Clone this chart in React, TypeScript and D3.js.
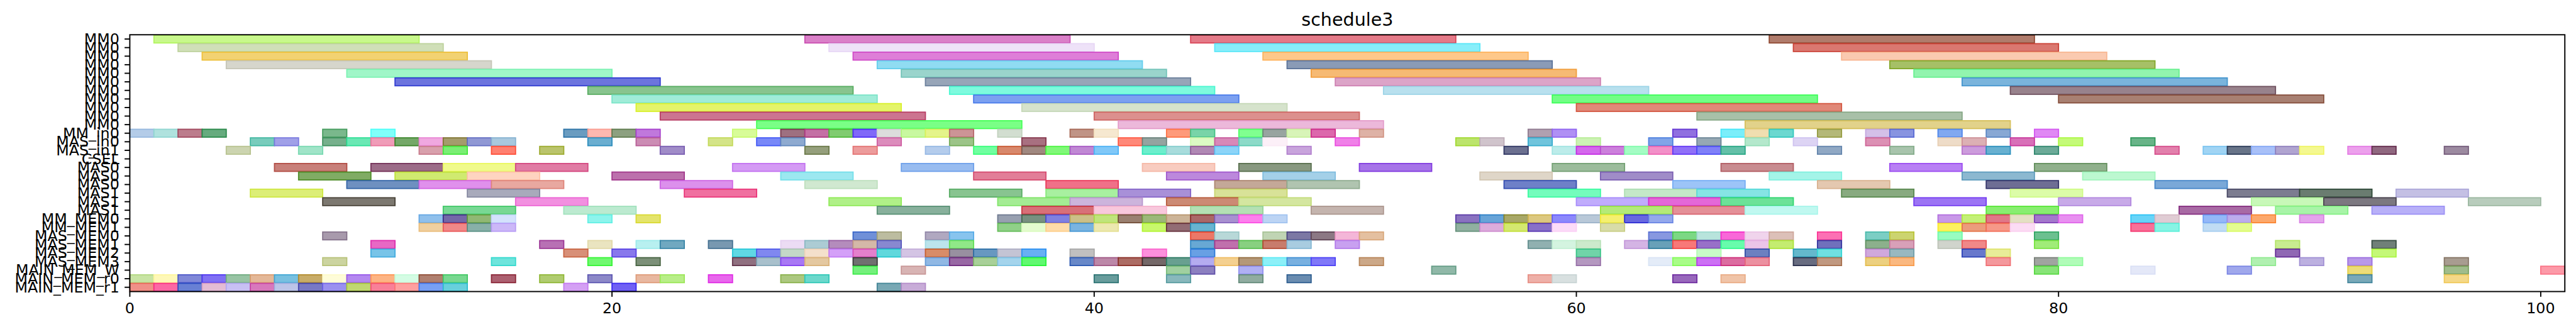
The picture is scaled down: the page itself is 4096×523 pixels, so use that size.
import React from 'react';
import * as d3 from 'd3';

type Task = [number, number, string];

const chartTitle = 'schedule3';

const rowLabels = [
  'MM0', 'MM0', 'MM0', 'MM0', 'MM0', 'MM0', 'MM0', 'MM0', 'MM0', 'MM0', 'MM0',
  'MM_in0', 'MAS_in0', 'MAS_in1', 'CSEL',
  'MAS0', 'MAS0', 'MAS0', 'MAS1', 'MAS1', 'MAS1',
  'MM_MEM0', 'MM_MEM1', 'MAS_MEM0', 'MAS_MEM1', 'MAS_MEM2', 'MAS_MEM3',
  'MAIN_MEM_W', 'MAIN_MEM_r0', 'MAIN_MEM_r1',
];

const xTicks = [0, 20, 40, 60, 80, 100];

// [start, end, colour] per row, top to bottom
const mm0Tasks: Task[][] = [
  [[1, 12, 'c8f88c'], [28, 39, 'da80c8'], [44, 55, 'e47a88'], [68, 79, 'b07c6c']],
  [[2, 13, 'd0dfb8'], [29, 40, 'eee2f8'], [45, 56, '88eefa'], [69, 80, 'da7870']],
  [[3, 14, 'f2d272'], [30, 41, 'de7ed8'], [47, 58, 'fec88a'], [71, 82, 'facab0']],
  [[4, 15, 'd6d6cc'], [31, 42, '90dcf2'], [48, 59, '8a9bb6'], [73, 84, 'a6c066']],
  [[9, 20, 'a0f6c8'], [32, 43, '9ad4cc'], [49, 60, 'f6ba74'], [74, 85, '92f4ae']],
  [[11, 22, '6c74de'], [33, 44, '97a5b8'], [50, 61, 'dca4c8'], [76, 87, '7ab4dc']],
  [[19, 30, '88c48e'], [34, 45, '7efade'], [52, 63, 'b8e0ee'], [78, 89, '98828c']],
  [[20, 31, 'a0ecd8'], [35, 46, '7ca0f0'], [59, 70, '72fe86'], [80, 91, 'a88072']],
  [[21, 32, 'e4f46a'], [37, 48, 'd6e3cc'], [60, 71, 'e08878']],
  [[22, 33, 'cc7490'], [40, 51, 'dc908e'], [65, 76, 'a8c0a8']],
  [[26, 37, '7aff86'], [41, 52, 'ecb8da'], [67, 78, 'e2d28a']],
];

const inputTasks: Task[][] = [
  [[0, 1, 'b4cce8'], [1, 2, 'b0e2de'], [2, 3, 'bc7c8c'], [3, 4, '66ab7e'], [8, 9, '7ab88c'], [10, 11, '80fffa'],
   [18, 19, '6a9cc0'], [19, 20, 'fcb8b0'], [20, 21, '8ca080'], [21, 22, 'c078dc'], [25, 26, 'd8fc98'],
   [27, 28, '9e7080'], [28, 29, 'c470a4'], [29, 30, '80cc70'], [30, 31, '8068f8'], [31, 32, 'dcdcdc'],
   [32, 33, 'c8f8a0'], [33, 34, 'e4f48a'], [34, 35, 'cc9496'], [36, 37, 'd2ded0'], [39, 40, 'c09486'],
   [40, 41, 'f6e8d0'], [43, 44, 'fe9a7a'], [44, 45, '78d4a8'], [46, 47, '80ff90'], [47, 48, '98a4a0'],
   [48, 49, 'd8f4b8'], [49, 50, 'dc68ac'], [51, 52, 'deb2a6'], [58, 59, 'b0a0b0'], [59, 60, 'b090f4'],
   [64, 65, '9070e0'], [66, 67, '7aeefa'], [67, 68, 'f0deb0'], [68, 69, '6cd8d0'], [70, 71, 'b4b878'],
   [72, 73, 'd4c0e8'], [73, 74, '8894e0'], [75, 76, '80a8f0'], [77, 78, '88a8d4'], [79, 80, 'e088f4']],
  [[5, 6, '78ccbc'], [6, 7, 'a0a0e8'], [8, 9, '76b08c'], [9, 10, '6ae8b4'], [10, 11, 'f09cb8'], [11, 12, '74a868'],
   [12, 13, 'f0a8e0'], [13, 14, 'a49c6c'], [14, 15, '9098d4'], [15, 16, 'a8c8de'], [19, 20, '6aaed0'],
   [21, 22, 'cc8cb4'], [24, 25, 'd4e488'], [26, 27, '7888f8'], [27, 28, '8eaad0'], [31, 32, 'dc8cbc'],
   [34, 35, '9cc488'], [37, 38, 'a87080'], [41, 42, 'ff8878'], [42, 43, '94a4a0'], [44, 45, 'dcfac4'],
   [45, 46, 'd888b8'], [46, 47, '8cdac8'], [47, 48, 'fcf0f8'], [50, 51, 'f080e8'], [55, 56, 'bce46c'],
   [56, 57, 'd0c4cc'], [58, 59, '70c4dc'], [60, 61, 'ccf2b4'], [63, 64, '80a4e8'], [65, 66, '96a8b4'],
   [67, 68, 'b4e8cc'], [69, 70, 'ddd4f4'], [72, 73, 'dc90b4'], [75, 76, 'eedcc8'], [76, 77, 'dcb0b4'],
   [78, 79, 'd870b8'], [80, 81, 'c4fa78'], [83, 84, '68b488']],
  [[4, 5, 'ccd4b0'], [7, 8, 'a0e4c8'], [12, 13, 'd8a0ac'], [13, 14, '7aee74'], [15, 16, 'ff8070'],
   [17, 18, 'bac46c'], [22, 23, 'a08cc8'], [28, 29, '959f7c'], [30, 31, 'ec9c9c'], [33, 34, 'b4ccec'],
   [35, 36, '70ffa0'], [36, 37, 'd8886c'], [37, 38, 'a08880'], [38, 39, '80f878'], [39, 40, 'c088d4'],
   [40, 41, '80c8f8'], [42, 43, '6ceecc'], [43, 44, 'a8dcdc'], [44, 45, 'b088b4'], [45, 46, '8cd4f8'],
   [48, 49, 'c8a4dc'], [57, 58, '6c7090'], [59, 60, 'bcecea'], [60, 61, 'd468ec'], [61, 62, 'cc80dc'],
   [62, 63, 'a4fcc4'], [63, 64, 'f290c8'], [64, 65, '9070f8'], [65, 66, '8080f8'], [66, 67, '64c0a8'],
   [70, 71, '90a8c4'], [73, 74, 'a8c4ac'], [76, 77, 'cc9cdc'], [77, 78, '68b0d0'], [79, 80, '6caa98'],
   [84, 85, 'e280ac'], [86, 87, 'a0d4f4'], [87, 88, '687488'], [88, 89, 'a8c0f8'], [89, 90, 'b0a4d0'],
   [90, 91, 'f4f890'], [92, 93, 'eca0ec'], [93, 94, '906880'], [96, 97, '9c8aa0']],
  [],
];

const masTasks: Task[][] = [
  [[6, 9, 'c8807a'], [10, 13, '9c6c88'], [13, 16, 'f0fa8c'], [16, 19, 'e07ca4'], [25, 28, 'd49af4'],
   [32, 35, '98bcf0'], [42, 45, 'f8ccc0'], [46, 49, '889880'], [51, 54, 'a674e8'], [59, 62, '9cbc9c'],
   [66, 69, 'c88c90'], [73, 76, 'b880f4'], [79, 82, '90b08c']],
  [[7, 10, '80ac64'], [11, 14, 'd0ea70'], [14, 17, 'fed4c0'], [20, 23, 'bc70ac'], [27, 30, '9ce8f0'],
   [35, 38, 'e27e98'], [43, 46, 'bc88dc'], [47, 50, 'a4d0e8'], [56, 59, 'dfd6c8'], [61, 64, 'a08cc8'],
   [68, 71, 'a4f4e8'], [76, 79, '8cb8d0'], [81, 84, 'bcf8d0']],
  [[9, 12, '6e90c0'], [12, 15, 'e090ec'], [15, 18, 'e8a8a0'], [22, 25, 'dc90ec'], [28, 31, 'd0e8d0'],
   [38, 41, 'f07088'], [45, 48, 'c4a898'], [48, 51, 'b0c4b0'], [57, 60, '6e80c8'], [64, 67, '9cc4f8'],
   [70, 73, 'e4c8b0'], [77, 80, '6e6e94'], [84, 87, '7aa8d8']],
  [[5, 8, 'dcee78'], [14, 17, 'a8aabb'], [23, 26, 'f070a0'], [34, 37, '88c490'], [38, 41, 'a8f0a0'],
   [41, 44, 'a890d8'], [45, 48, 'd8e298'], [58, 61, '74fcbc'], [62, 65, 'c4e8c8'], [65, 68, '86e4e4'],
   [71, 74, '88aa80'], [78, 81, 'dcfca8'], [87, 90, '7c7c90'], [90, 93, '6a7c70'], [94, 97, 'c4c0e4']],
  [[8, 11, '7c7870'], [16, 19, 'f290e0'], [29, 32, 'b0f088'], [36, 39, 'a4ec94'], [39, 42, 'ccb4dc'],
   [43, 46, 'cc8a74'], [46, 49, 'd4e6a0'], [60, 63, 'c0acfc'], [63, 66, 'e468d8'], [66, 69, '6ce298'],
   [74, 77, '9c74f4'], [80, 83, 'c8aae8'], [88, 91, 'c8f8b8'], [91, 94, '7c7880'], [97, 100, 'b8ccbc']],
  [[13, 16, '78d894'], [18, 21, 'bcead0'], [31, 34, '88b09c'], [37, 40, 'd87078'], [40, 43, 'f8c8dc'],
   [44, 47, 'b4e0b4'], [49, 52, 'c4b4ae'], [61, 64, 'b4ea78'], [64, 67, 'e49098'], [67, 70, 'c0f8f0'],
   [77, 80, '88ee70'], [85, 88, 'a86aa4'], [89, 92, 'a8f4a8'], [93, 96, 'b8b0f8']],
];

const memTasks: Task[][] = [
  [[12, 13, '90c0ec'], [13, 14, '7468a8'], [14, 15, '90b874'], [15, 16, 'd4e2fc'], [19, 20, '8ef4ec'],
   [21, 22, 'e4e46c'], [36, 37, '98a0b0'], [37, 38, '789080'], [38, 39, '8080e0'], [39, 40, 'ccc088'],
   [40, 41, 'c0e47c'], [41, 42, '9a8070'], [42, 43, '9cb878'], [43, 44, 'ccb498'], [44, 45, 'aa6868'],
   [45, 46, 'a890d0'], [46, 47, 'fc80ec'], [47, 48, 'bcd4f4'], [55, 56, '8a72c0'], [56, 57, '68a4d8'],
   [57, 58, 'a8a868'], [58, 59, 'dcc880'], [59, 60, '8c88fc'], [60, 61, 'b8c8d8'], [61, 62, 'f4f070'],
   [62, 63, '6868e0'], [63, 64, '94a8ec'], [75, 76, 'c898e8'], [76, 77, 'c4f078'], [77, 78, 'e07888'],
   [78, 79, 'e4e0c4'], [79, 80, 'a478cc'], [80, 81, 'e890f0'], [83, 84, '68d4f8'], [84, 85, 'e0ccd4'],
   [86, 87, '94b8f8'], [87, 88, 'bcacec'], [88, 89, 'fca86c'], [90, 91, 'e4a4ec']],
  [[12, 13, 'f0d0a0'], [13, 14, 'f08888'], [14, 15, '88b0a8'], [15, 16, 'ccb8f8'], [36, 37, '90d088'],
   [37, 38, 'e4fcd0'], [38, 39, 'fedcaa'], [39, 40, '7ab4e0'], [40, 41, 'ece8b0'], [42, 43, 'c8f86c'],
   [43, 44, '926c74'], [44, 45, '68b4d0'], [55, 56, '90b0a0'], [56, 57, 'dcacdc'], [57, 58, 'd4e870'],
   [58, 59, '8870c8'], [59, 60, 'fcdcf8'], [61, 62, 'd8dca8'], [75, 76, 'fcf060'], [76, 77, 'ec9c7c'],
   [77, 78, 'f69888'], [78, 79, 'fcdcf4'], [83, 84, 'f87098'], [84, 85, '88f4e4'], [86, 87, 'c0dcf4'],
   [87, 88, 'e4fc90']],
  [[8, 9, 'a89aac'], [30, 31, '7090d8'], [31, 32, 'bcbca0'], [33, 34, 'b0a8c0'], [34, 35, '88c4ee'],
   [44, 45, 'ec7868'], [45, 46, 'b8d8d8'], [47, 48, 'c0d4b4'], [48, 49, '7c78a4'], [49, 50, '8c7884'],
   [50, 51, 'f4b6d8'], [51, 52, 'e4c0a0'], [63, 64, '8898e0'], [64, 65, '7cd884'], [65, 66, 'b8e4dc'],
   [66, 67, 'f868d8'], [67, 68, 'f0d4ec'], [68, 69, 'dcc0b8'], [70, 71, 'fc70b4'], [72, 73, '7ccec4'],
   [73, 74, 'ccd470'], [75, 76, '98fcc0'], [79, 80, '6cc090']],
  [[10, 11, 'e868c4'], [17, 18, 'b870b4'], [19, 20, 'eae4c0'], [21, 22, 'b8f0f0'], [22, 23, '70a8c0'],
   [24, 25, '7898b0'], [27, 28, 'ecdcf4'], [28, 29, 'acccd4'], [29, 30, 'b48cbc'], [30, 31, 'd4b8a8'],
   [31, 32, '8888d0'], [33, 34, 'bce4ec'], [34, 35, '90e888'], [44, 45, '68a8d4'], [45, 46, 'c070ac'],
   [46, 47, '88d080'], [47, 48, 'c87c6c'], [48, 49, 'a8cce0'], [50, 51, 'c8a0f0'], [58, 59, '90b0b0'],
   [59, 60, 'd4f4e0'], [60, 61, 'cceacc'], [62, 63, 'd4b4e4'], [63, 64, '68a0b8'], [64, 65, 'f87878'],
   [65, 66, '9870c8'], [66, 67, '68fcac'], [67, 68, 'ecc4e8'], [68, 69, 'c4ec70'], [70, 71, '7070bc'],
   [72, 73, '8cb08c'], [73, 74, 'd8a0b8'], [75, 76, 'd0d4cc'], [76, 77, 'f08888'], [79, 80, 'a0ec78'],
   [89, 90, 'c8ec90'], [93, 94, '708078']],
  [[10, 11, '78c4e8'], [18, 19, 'd89078'], [20, 21, '8878ec'], [25, 26, '60d8e4'], [26, 27, '8088f0'],
   [27, 28, 'c4d8c8'], [28, 29, 'f4e0cc'], [29, 30, 'd4a0f8'], [30, 31, 'e480cc'], [31, 32, '60d8dc'],
   [32, 33, 'd4c4e4'], [33, 34, 'd88c68'], [34, 35, '9890a0'], [35, 36, '6898c0'], [36, 37, 'c4c4d4'],
   [37, 38, '68b0f4'], [39, 40, 'c0c0c0'], [42, 43, 'fc90dc'], [44, 45, '68a0e4'], [60, 61, '70d4a8'],
   [65, 66, 'c8fcc8'], [67, 68, '6c80c0'], [69, 70, '64b8cc'], [70, 71, '70e0e0'], [72, 73, 'd0a8dc'],
   [73, 74, '98b8c0'], [76, 77, '6878cc'], [77, 78, 'e8ec98'], [89, 90, '9068b4'], [93, 94, 'c4f878']],
  [[8, 9, 'ccd4a0'], [15, 16, '6ee4dc'], [19, 20, '70f870'], [21, 22, '7c9078'], [25, 26, '907080'],
   [26, 27, 'a8c0cc'], [27, 28, 'a878f4'], [28, 29, 'e4c8a0'], [30, 31, '707070'], [33, 34, '90b8e4'],
   [34, 35, '9868a4'], [35, 36, 'a8d098'], [36, 37, 'a4d4ec'], [37, 38, '60f870'], [39, 40, '6888c8'],
   [40, 41, 'bc88a8'], [41, 42, 'ac6c64'], [42, 43, '746868'], [43, 44, '68a090'], [44, 45, 'b4acf0'],
   [45, 46, 'f4d090'], [46, 47, 'b49878'], [47, 48, '8cf0f8'], [48, 49, '78b0e0'], [49, 50, '8078f8'],
   [51, 52, 'cca888'], [60, 61, 'b498c0'], [63, 64, 'e4ecf8'], [64, 65, 'a8fc88'], [65, 66, 'cc70f4'],
   [66, 67, 'dc6ca0'], [67, 68, 'ec90a0'], [69, 70, '686c80'], [70, 71, 'c09880'], [72, 73, 'ecd080'],
   [73, 74, 'fab880'], [77, 78, 'f4989c'], [79, 80, 'a0a4a0'], [80, 81, 'b0fcb8'], [88, 89, 'b0f0b0'],
   [90, 91, 'bcb0e0'], [92, 93, 'b898e8'], [96, 97, 'a89c90']],
];

const mainMemTasks: Task[][] = [
  [[30, 31, '74f07c'], [32, 33, 'd8b4b4'], [43, 44, 'a0d0a0'], [44, 45, '8c80c0'], [46, 47, 'b0b0f4'],
   [54, 55, '90b8a8'], [79, 80, '88e478'], [83, 84, 'e4e8f8'], [87, 88, 'a0a8ec'], [92, 93, 'ecdc78'],
   [96, 97, 'a0bc8c'], [100, 101, 'fc9aa8']],
  [[0, 1, 'c8e4a4'], [1, 2, 'fef8b8'], [2, 3, '8088d8'], [3, 4, '8070f4'], [4, 5, '98c4a4'], [5, 6, 'e4b898'],
   [6, 7, '78c0e0'], [7, 8, 'c8ac68'], [8, 9, 'fefcd8'], [9, 10, 'b488f0'], [10, 11, 'fdb484'],
   [11, 12, 'd4fce4'], [12, 13, 'b08070'], [13, 14, '78d890'], [15, 16, 'ac6070'], [17, 18, 'b0cc70'],
   [19, 20, '8c88c8'], [21, 22, 'e8b8a0'], [22, 23, 'b8ee88'], [24, 25, 'e868ec'], [27, 28, 'acc880'],
   [28, 29, '6cd8cc'], [40, 41, '689c9c'], [43, 44, '88b8bc'], [46, 47, '90aca0'], [48, 49, '6a8cb0'],
   [58, 59, 'eeb0a8'], [59, 60, 'd8e0e0'], [64, 65, '9868bc'], [66, 67, 'f0c4a8'], [92, 93, '78a8b8'],
   [96, 97, 'f4d888']],
  [[0, 1, 'f09088'], [1, 2, 'fc68a4'], [2, 3, '6880d4'], [3, 4, 'e4bcd4'], [4, 5, 'c8c0f4'], [5, 6, 'd878bc'],
   [6, 7, 'bcc4e8'], [7, 8, '7878c4'], [8, 9, '9a90f0'], [9, 10, 'c0d870'], [10, 11, 'f88098'],
   [11, 12, 'fea0a0'], [12, 13, '78a0f4'], [13, 14, '68d0dc'], [18, 19, 'd4a0f4'], [20, 21, '7060f4'],
   [31, 32, '78a8b4'], [32, 33, 'c8acd8']],
];

const rows = [...mm0Tasks, ...inputTasks, ...masTasks, ...memTasks, ...mainMemTasks];

// layout (everything at 0.884 of the original figure)
const W = 4096;
const H = 523;
const k = 0.884;
const left = 233.5 * k;
const right = 4613.4 * k;
const top = 62.5 * k;
const bottom = 524.3 * k;
const tickLen = 9.4 * k;
const tickPad = 9.4 * k;
const fontSize = 26.9 * k;
const titleSize = 32.3 * k;
const lw = 2.15 * k;
const font = '"DejaVu Sans", sans-serif';

// fill colours are the blended look of alpha 0.6 on white; edges are the same colour drawn over it
function edgeColor(hex: string) {
  const c = d3.rgb('#' + hex);
  const base = (v: number) => Math.max(0, Math.min(255, (v - 102) / 0.6));
  return d3.rgb(0.4 * c.r + 0.6 * base(c.r), 0.4 * c.g + 0.6 * base(c.g), 0.4 * c.b + 0.6 * base(c.b)).formatHex();
}

export default function App() {
  const x = d3.scaleLinear().domain([0, 101]).range([left, right]);
  const y = d3.scaleBand<number>().domain(d3.range(rowLabels.length)).range([top, bottom]).padding(0);
  const bh = y.bandwidth() * 0.92;
  const sw = 2 * k;

  return (
    <svg width={W} height={H} style={{ position: 'absolute', left: 0, top: 0, background: '#fff' }}>
      <text x={(left + right) / 2} y={top - 16.1 * k} textAnchor="middle" fontFamily={font} fontSize={titleSize}>
        {chartTitle}
      </text>
      <g>
        {rows.map((tasks, r) =>
          tasks.map(([s, e, col], i) => {
            const yc = y(r)! + y.bandwidth() / 2;
            return (
              <rect
                key={`${r}-${i}`}
                x={x(s)}
                y={yc - bh / 2}
                width={x(e) - x(s)}
                height={bh}
                fill={'#' + col}
                stroke={edgeColor(col)}
                strokeWidth={sw}
              />
            );
          })
        )}
      </g>
      <rect x={left} y={top} width={right - left} height={bottom - top} fill="none" stroke="#000" strokeWidth={lw} />
      <g fontFamily={font} fontSize={fontSize}>
        {rowLabels.map((lab, r) => {
          const yc = y(r)! + y.bandwidth() / 2;
          return (
            <g key={r}>
              <line x1={left - tickLen} x2={left} y1={yc} y2={yc} stroke="#000" strokeWidth={lw} />
              <text x={left - tickLen - tickPad} y={yc} textAnchor="end" dominantBaseline="central">
                {lab}
              </text>
            </g>
          );
        })}
        {xTicks.map((t) => (
          <g key={t}>
            <line x1={x(t)} x2={x(t)} y1={bottom} y2={bottom + tickLen} stroke="#000" strokeWidth={lw} />
            <text x={x(t)} y={bottom + tickLen + tickPad + fontSize * 0.76} textAnchor="middle">
              {t}
            </text>
          </g>
        ))}
      </g>
    </svg>
  );
}
